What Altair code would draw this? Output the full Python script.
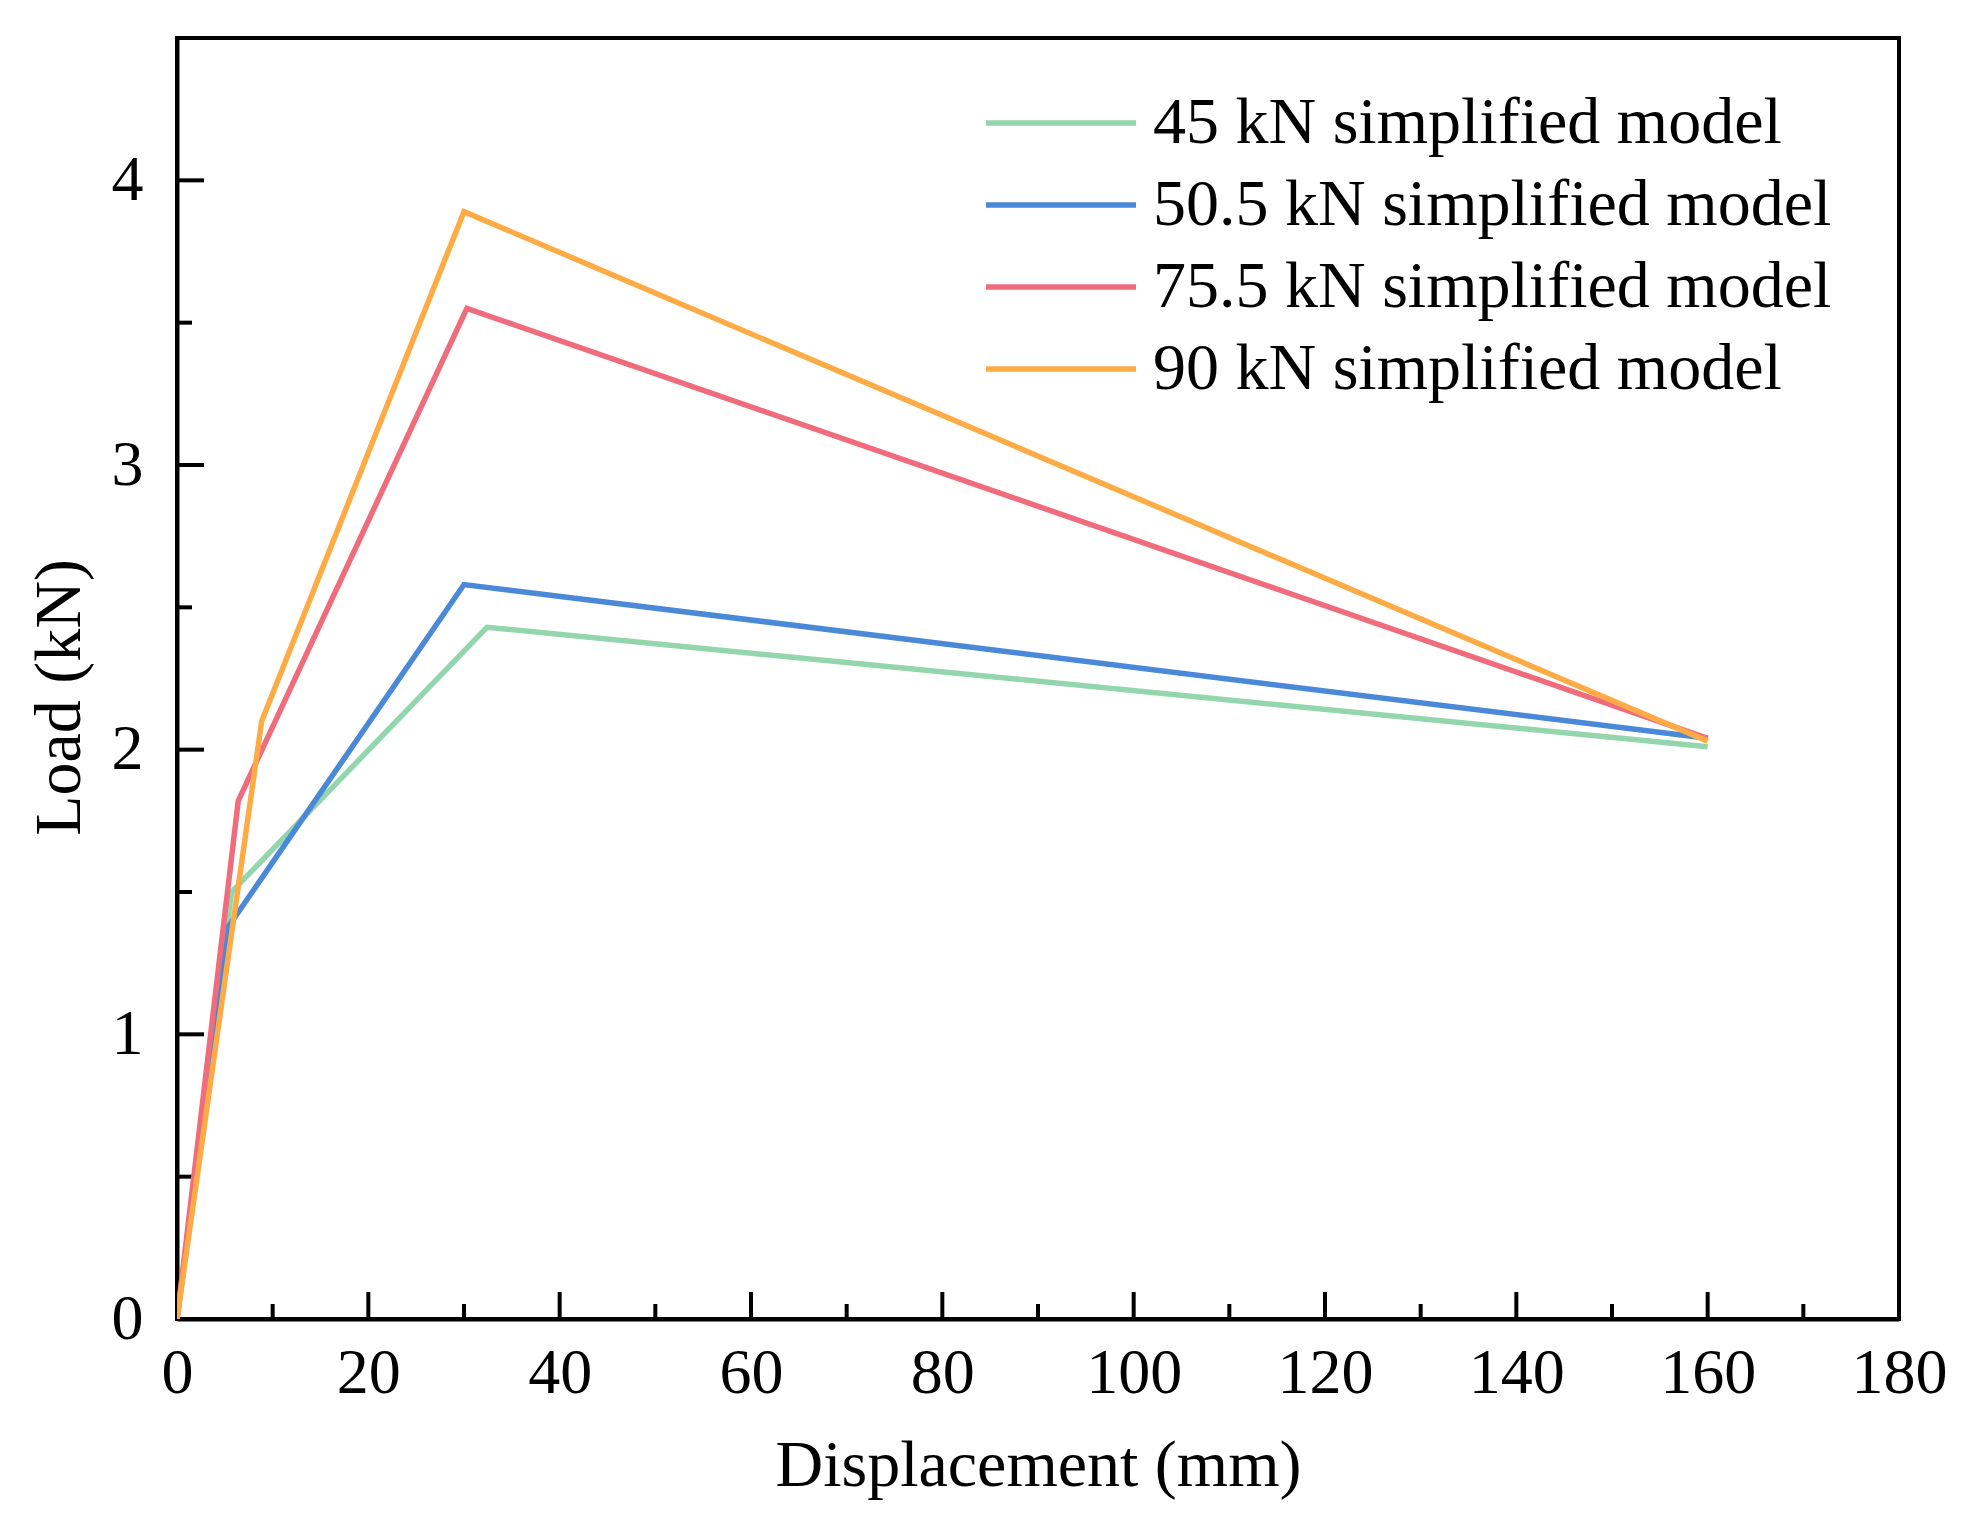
import altair as alt
import pandas as pd

# ---- data ----
series = ["45 kN simplified model", "50.5 kN simplified model",
          "75.5 kN simplified model", "90 kN simplified model"]
colors = ["#93d6ad", "#4a88d8", "#f06b7c", "#ffab45"]

disp_45 = [0, 5.7, 32.4, 160]
load_45 = [0, 1.50, 2.43, 2.01]
disp_505 = [0, 5.4, 30.0, 160]
load_505 = [0, 1.38, 2.58, 2.04]
disp_755 = [0, 6.4, 30.3, 160]
load_755 = [0, 1.82, 3.55, 2.04]
disp_90 = [0, 8.85, 30.0, 160]
load_90 = [0, 2.10, 3.89, 2.03]

x_major = [0, 20, 40, 60, 80, 100, 120, 140, 160, 180]
x_minor = [10, 30, 50, 70, 90, 110, 130, 150, 170]
y_major = [0, 1, 2, 3, 4]
y_minor = [0.5, 1.5, 2.5, 3.5]

# ---- build tables ----
rows = []
for name, xs, ys in zip(series, [disp_45, disp_505, disp_755, disp_90],
                        [load_45, load_505, load_755, load_90]):
    for i, (a, b) in enumerate(zip(xs, ys)):
        rows.append({"series": name, "disp": a, "load": b, "idx": i})
df = pd.DataFrame(rows)

W, H = 1722, 1281
FONT = "Liberation Serif"
MAJ, MIN = 27, 15

xs = alt.Scale(domain=[0, 180], nice=False, zero=False)
ys = alt.Scale(domain=[0, 4.5], nice=False, zero=False)

lines = alt.Chart(df).mark_line(strokeWidth=5.5, clip=True).encode(
    x=alt.X("disp:Q", scale=xs, title="Displacement (mm)",
            axis=alt.Axis(values=x_major, ticks=False, grid=False, labelPadding=22,
                          labelFlush=False, format="d", titlePadding=28)),
    y=alt.Y("load:Q", scale=ys, title="Load (kN)",
            axis=alt.Axis(values=y_major, ticks=False, grid=False, labelPadding=34,
                          labelFlush=False, format="d", titlePadding=18, titleY=659)),
    color=alt.Color("series:N", scale=alt.Scale(domain=series, range=colors),
                    legend=alt.Legend(title=None, orient="none", legendX=806, legendY=44,
                                      symbolType="stroke", symbolSize=22500,
                                      symbolStrokeWidth=5.5, labelFont=FONT,
                                      labelFontSize=66, labelOffset=14, labelLimit=2000,
                                      clipHeight=82, rowPadding=0, padding=0,
                                      labelColor="black")),
    order="idx:Q",
)

xmaj = alt.Chart(pd.DataFrame({"v": x_major})).mark_rule(color="black", strokeWidth=4).encode(
    x=alt.X("v:Q", scale=xs), y=alt.value(H), y2=alt.value(H - MAJ))
xmin = alt.Chart(pd.DataFrame({"v": x_minor})).mark_rule(color="black", strokeWidth=4).encode(
    x=alt.X("v:Q", scale=xs), y=alt.value(H), y2=alt.value(H - MIN))
ymaj = alt.Chart(pd.DataFrame({"v": y_major})).mark_rule(color="black", strokeWidth=4).encode(
    y=alt.Y("v:Q", scale=ys), x=alt.value(0), x2=alt.value(MAJ))
ymin = alt.Chart(pd.DataFrame({"v": y_minor})).mark_rule(color="black", strokeWidth=4).encode(
    y=alt.Y("v:Q", scale=ys), x=alt.value(0), x2=alt.value(MIN))

chart = alt.layer(xmaj, xmin, ymaj, ymin, lines).properties(
    width=W, height=H,
    autosize=alt.AutoSizeParams(type="none"),
    padding={"left": 169, "top": 30, "right": 60, "bottom": 192},
    background="white",
).configure_view(
    stroke="black", strokeWidth=4
).configure_axis(
    domainColor="black", domainWidth=4,
    labelFont=FONT, labelFontSize=64, labelColor="black",
    titleFont=FONT, titleFontSize=66, titleFontWeight="normal", titleColor="black",
)

chart.save("out.html", embed_options={"renderer": "svg", "actions": False})
